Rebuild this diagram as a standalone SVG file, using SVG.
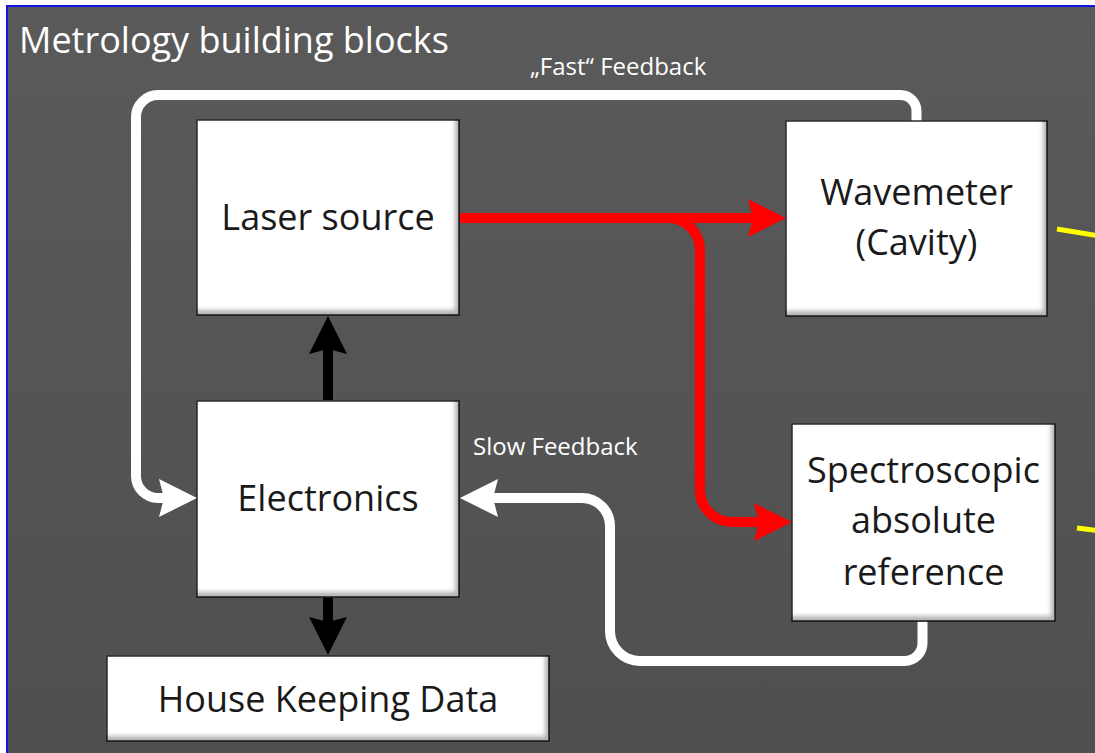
<svg xmlns="http://www.w3.org/2000/svg" width="1095" height="753" viewBox="0 0 1095 753">
  <defs>
    <style>
      .label { font-family: "Open Sans", "DejaVu Sans", sans-serif; fill: #1a1a1a; font-size: 36px; text-anchor: middle; }
      .note { font-family: "Open Sans", "DejaVu Sans", sans-serif; fill: #ffffff; font-size: 24px; }
      .title { font-family: "Open Sans", "DejaVu Sans", sans-serif; fill: #ffffff; font-size: 36px; }
      .box { fill: #ffffff; stroke: #2e2e2e; stroke-width: 1.5; filter: url(#bevel); }
      .red { fill: none; stroke: #ff0000; stroke-width: 10; }
      .white { fill: none; stroke: #ffffff; stroke-width: 10; }
      .black { fill: none; stroke: #000000; stroke-width: 10; }
    </style>
    <linearGradient id="bg" x1="0" y1="0" x2="0" y2="1">
      <stop offset="0" stop-color="#5a5a5a"/>
      <stop offset="1" stop-color="#4f4f4f"/>
    </linearGradient>
    <!-- soft inner shade along the lower and right edges of each block -->
    <filter id="bevel" x="-5%" y="-5%" width="110%" height="110%">
      <feGaussianBlur in="SourceAlpha" stdDeviation="2" result="blur"/>
      <feOffset in="blur" dx="-5" dy="-6" result="shifted"/>
      <feComposite in="SourceAlpha" in2="shifted" operator="out" result="edge"/>
      <feFlood flood-color="#000000" flood-opacity="0.55"/>
      <feComposite in2="edge" operator="in" result="shade"/>
      <feMerge>
        <feMergeNode in="SourceGraphic"/>
        <feMergeNode in="shade"/>
      </feMerge>
    </filter>
    <marker id="headRed" markerUnits="userSpaceOnUse" markerWidth="40" markerHeight="40" refX="5" refY="19" orient="auto" overflow="visible">
      <path d="M0,0 L38,19 L0,38 L5,19 Z" fill="#ff0000"/>
    </marker>
    <marker id="headWhite" markerUnits="userSpaceOnUse" markerWidth="40" markerHeight="40" refX="5" refY="19" orient="auto" overflow="visible">
      <path d="M0,0 L38,19 L0,38 L5,19 Z" fill="#ffffff"/>
    </marker>
    <marker id="headBlack" markerUnits="userSpaceOnUse" markerWidth="40" markerHeight="40" refX="5" refY="19" orient="auto" overflow="visible">
      <path d="M0,0 L38,19 L0,38 L5,19 Z" fill="#000000"/>
    </marker>
  </defs>

  <!-- slide backdrop -->
  <rect x="0" y="0" width="1095" height="753" fill="#ffffff"/>
  <rect x="7" y="6" width="1100" height="760" fill="url(#bg)" stroke="#1414e6" stroke-width="2"/>
  <text class="title" x="19" y="53">Metrology building blocks</text>

  <!-- connectors -->
  <g id="connectors">
    <path class="red" d="M458,218 H753" stroke-linecap="round" marker-end="url(#headRed)"/>
    <path class="red" d="M458,218 H668 A32,32 0 0 1 700,250 V490 A32,32 0 0 0 732,522 H759" stroke-linecap="round" marker-end="url(#headRed)"/>
    <path class="white" d="M916.5,121 V111 A16,16 0 0 0 900.5,95 H158 A22,22 0 0 0 136,117 V476 A22,22 0 0 0 158,498 H164" marker-end="url(#headWhite)"/>
    <path class="white" d="M922.5,621 V643 A18,18 0 0 1 904.5,661 H640 A30,30 0 0 1 610,631 V526 A28,28 0 0 0 582,498 H493" marker-end="url(#headWhite)"/>
    <path class="black" d="M328,400 V349" marker-end="url(#headBlack)"/>
    <path class="black" d="M328,597 V622" marker-end="url(#headBlack)"/>
    <text class="note" x="530" y="75">„Fast“ Feedback</text>
    <text class="note" x="473" y="455">Slow Feedback</text>
    <line x1="1057" y1="229" x2="1097" y2="235.5" stroke="#ffff00" stroke-width="5"/>
    <line x1="1077" y1="528" x2="1097" y2="530.5" stroke="#ffff00" stroke-width="5"/>
  </g>

  <g id="laser-source">
    <rect class="box" x="197" y="120" width="262" height="195"/>
    <text class="label" x="328" y="230">Laser source</text>
  </g>

  <g id="wavemeter">
    <rect class="box" x="786" y="121" width="261" height="195"/>
    <text class="label" x="916.5" y="205">Wavemeter</text>
    <text class="label" x="916.5" y="255">(Cavity)</text>
  </g>

  <g id="electronics">
    <rect class="box" x="197" y="401" width="262" height="196"/>
    <text class="label" x="328" y="511">Electronics</text>
  </g>

  <g id="spectroscopic-reference">
    <rect class="box" x="792" y="424" width="263" height="197"/>
    <text class="label" x="923.5" y="483">Spectroscopic</text>
    <text class="label" x="923.5" y="533">absolute</text>
    <text class="label" x="923.5" y="585">reference</text>
  </g>

  <g id="house-keeping-data">
    <rect class="box" x="107" y="656" width="442" height="85"/>
    <text class="label" x="328" y="712">House Keeping Data</text>
  </g>
</svg>
